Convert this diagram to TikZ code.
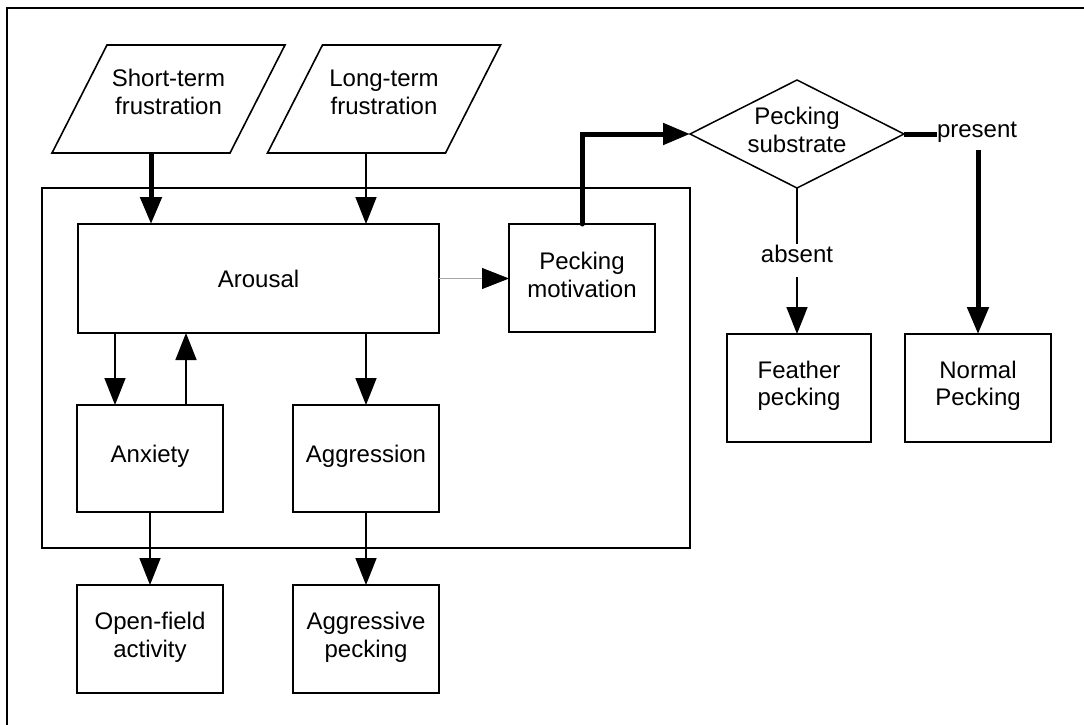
\documentclass[tikz,border=0pt]{standalone}
\usepackage{fontspec}
\setmainfont{Liberation Sans}
\usetikzlibrary{arrows.meta,shapes.geometric,calc}

% text block set a little above the centre of its shape
\newcommand\lifted[2]{\raisebox{#1pt}[\height][\depth]{\begin{tabular}{@{}c@{}}#2\end{tabular}}}

\begin{document}
\begin{tikzpicture}[x=1pt,y=-1pt,
  every node/.style={font=\fontsize{24}{27.5}\selectfont},
  box/.style={draw, line width=1.7pt, inner sep=0pt, outer sep=0pt,
    minimum width=146pt, minimum height=108pt},
  inbox/.style={inner sep=0pt, outer sep=0pt,
    minimum width=233pt, minimum height=108pt},
  shape line/.style={line width=1.6pt, line join=miter},
  tip/.style={-{Triangle[length=27pt,width=21pt,black]}},
  arr/.style={tip, line width=1.7pt},
  heavy/.style={line width=5pt},
  heavyarr/.style={tip, line width=5pt},
  faint/.style={tip, line width=0.8pt, draw=black!35},
  tag/.style={inner xsep=0pt, outer sep=0pt}
]
\useasboundingbox (0,0) rectangle (1084,725);

% page frame (only its top and left edges fall inside the page)
\draw[line width=2pt] (7,725) -- (7,8) -- (1084,8);

% inputs drawn as parallelograms
\node[inbox] (st) at (168.5,99) {\lifted{4}{Short-term\\frustration}};
\node[inbox] (lt) at (384,99) {\lifted{4}{Long-term\\frustration}};
\foreach \p in {st,lt}
  \draw[shape line] (\p.south west) -- ($(\p.south east)+(-55,0)$)
     -- (\p.north east) -- ($(\p.north west)+(55,0)$) -- cycle;

% enclosing group box
\node[draw, line width=1.8pt, inner sep=0pt, outer sep=0pt,
      minimum width=648pt, minimum height=360pt] (group) at (366,368) {};

% internal states
\node[box, minimum width=361pt, minimum height=109pt] (arousal) at (258.5,278.5) {Arousal};
\node[box] (pm) at (582,278) {\lifted{0}{Pecking\\motivation}};
\node[box, minimum height=107pt] (anx) at (150,458.5) {\lifted{2}{Anxiety}};
\node[box, minimum height=107pt] (aggr) at (366,458.5) {\lifted{2}{Aggression}};

% observed behaviours
\node[box] (ofa) at (150,639) {\lifted{1}{Open-field\\activity}};
\node[box] (aggp) at (366,639) {\lifted{1}{Aggressive\\pecking}};
\node[box, minimum width=144pt] (fp) at (799,388) {\lifted{1.5}{Feather\\pecking}};
\node[box] (np) at (978,388) {\lifted{1.5}{Normal\\Pecking}};

% decision
\node[diamond, draw, line width=1.5pt, aspect=2, inner sep=0pt, outer sep=0pt,
      minimum width=214pt, minimum height=108pt] (dia) at (797,134)
      {\lifted{1}{Pecking\\substrate}};

% branch labels
\node[tag, inner ysep=8pt, anchor=base west] (present) at (937,137) {present};
\node[tag, inner ysep=1pt, anchor=base] (absent) at (797,262) {absent};

% inputs into arousal
\draw[heavyarr] ([xshift=-17.5pt]st.south) -- ([xshift=-17.5pt]st.south |- arousal.north);
\draw[arr] ([xshift=-18pt]lt.south) -- ([xshift=-18pt]lt.south |- arousal.north);

% arousal and its outputs
\draw[faint] (arousal.east) -- (arousal.east -| pm.west);
\draw[arr] ([xshift=-35pt]anx.north |- arousal.south) -- ([xshift=-35pt]anx.north);
\draw[arr] ([xshift=36pt]anx.north) -- ([xshift=36pt]anx.north |- arousal.south);
\draw[arr] (aggr.north |- arousal.south) -- (aggr.north);
\draw[arr] (anx.south) -- (ofa.north);
\draw[arr] (aggr.south) -- (aggp.north);

% pecking motivation to the substrate decision
\draw[heavyarr, line cap=round] (pm.north) |- (dia.west);

% branches
\draw[heavy] (dia.east) -- (dia.east -| present.west);
\draw[heavyarr] (present.south -| np.north) -- (np.north);
\draw[line width=1.7pt] (dia.south) -- (absent.north);
\draw[arr] ([yshift=-14pt]absent.south) -- (absent.south |- fp.north);
\end{tikzpicture}
\end{document}
